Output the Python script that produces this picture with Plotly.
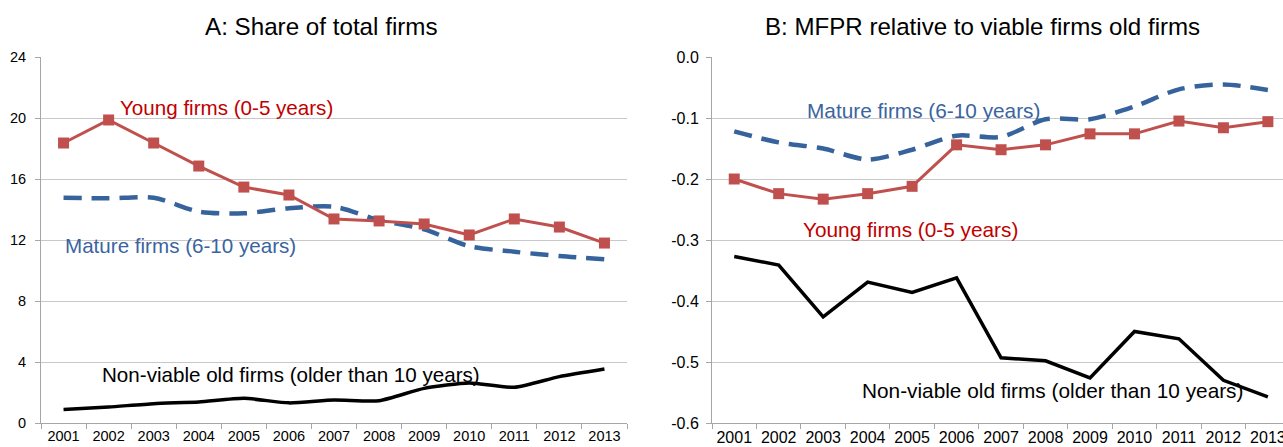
import plotly.graph_objects as go

years = ['2001', '2002', '2003', '2004', '2005', '2006', '2007', '2008', '2009', '2010', '2011', '2012', '2013']

# panel A: share of total firms (%)
share_young = [18.36, 19.87, 18.36, 16.85, 15.47, 14.95, 13.38, 13.25, 13.05, 12.33, 13.38, 12.85, 11.80]
share_mature = [14.77, 14.73, 14.77, 13.86, 13.75, 14.08, 14.18, 13.30, 12.70, 11.60, 11.23, 10.95, 10.73]
share_nonviable = [0.88, 1.05, 1.27, 1.38, 1.62, 1.32, 1.51, 1.46, 2.27, 2.62, 2.34, 3.04, 3.54]

# panel B: MFPR relative to viable old firms
mfpr_young = [-0.200, -0.224, -0.233, -0.224, -0.212, -0.144, -0.152, -0.144, -0.126, -0.126, -0.105, -0.116, -0.106]
mfpr_mature = [-0.122, -0.140, -0.150, -0.168, -0.152, -0.129, -0.131, -0.102, -0.102, -0.081, -0.053, -0.045, -0.054]
mfpr_nonviable = [-0.327, -0.341, -0.426, -0.369, -0.386, -0.362, -0.493, -0.498, -0.526, -0.450, -0.462, -0.530, -0.557]

a_ticks = [0, 4, 8, 12, 16, 20, 24]
b_ticks = [0.0, -0.1, -0.2, -0.3, -0.4, -0.5, -0.6]
b_ticktext = ['0.0', '-0.1', '-0.2', '-0.3', '-0.4', '-0.5', '-0.6']

RED = '#C0504D'
BLUE = '#36639C'
RED_TXT = '#C00000'
BLUE_TXT = '#3A64A0'
FONT = 'Liberation Sans, Arial, sans-serif'

fig = go.Figure()

# panel A
fig.add_trace(go.Scatter(x=years, y=share_mature, mode='lines', xaxis='x', yaxis='y',
                         line=dict(color=BLUE, width=4.5, dash='18px,10px', shape='spline', smoothing=0.8)))
fig.add_trace(go.Scatter(x=years, y=share_young, mode='lines+markers', xaxis='x', yaxis='y',
                         line=dict(color=RED, width=3),
                         marker=dict(symbol='square', size=11, color=RED)))
fig.add_trace(go.Scatter(x=years, y=share_nonviable, mode='lines', xaxis='x', yaxis='y',
                         line=dict(color='black', width=3.5, shape='spline', smoothing=0.6)))

# panel B
fig.add_trace(go.Scatter(x=years, y=mfpr_mature, mode='lines', xaxis='x2', yaxis='y2',
                         line=dict(color=BLUE, width=4.5, dash='18px,10px', shape='spline', smoothing=0.8)))
fig.add_trace(go.Scatter(x=years, y=mfpr_young, mode='lines+markers', xaxis='x2', yaxis='y2',
                         line=dict(color=RED, width=3),
                         marker=dict(symbol='square', size=11, color=RED)))
fig.add_trace(go.Scatter(x=years, y=mfpr_nonviable, mode='lines', xaxis='x2', yaxis='y2',
                         line=dict(color='black', width=3.5)))

xcommon = dict(type='category', showline=True, linecolor='#A6A6A6', linewidth=1,
               ticks='outside', ticklen=5, tickcolor='#A6A6A6', tickson='boundaries',
               tickangle=0, automargin=False, showgrid=False, zeroline=False)
ycommon = dict(showline=True, linecolor='#A6A6A6', linewidth=1,
               ticks='outside', ticklen=5, tickcolor='#A6A6A6', automargin=False,
               showgrid=True, gridcolor='#C8C8C8', gridwidth=1, zeroline=False)
font_a = dict(family=FONT, size=14.5, color='black')
font_b = dict(family=FONT, size=16, color='black')

fig.update_layout(
    width=1283, height=447,
    margin=dict(l=0, r=0, t=57, b=24),
    plot_bgcolor='white', paper_bgcolor='white',
    showlegend=False,
    xaxis=dict(xcommon, domain=[41 / 1283, 627 / 1283], range=[-0.5, 12.5], anchor='y', tickfont=font_a),
    yaxis=dict(ycommon, range=[0, 24], tickvals=a_ticks, anchor='x', tickfont=font_a, ticklabelstandoff=6),
    xaxis2=dict(xcommon, domain=[712 / 1283, 1.0], range=[-0.5, 12.34], anchor='y2', tickfont=font_b),
    yaxis2=dict(ycommon, range=[-0.6, 0.0], tickvals=b_ticks, ticktext=b_ticktext, anchor='x2',
                tickfont=font_b, ticklabelstandoff=4),
    annotations=[
        dict(text='A: Share of total firms', xref='paper', yref='paper', x=321 / 1283, y=1,
             yshift=31, xanchor='center', yanchor='middle', showarrow=False,
             font=dict(family=FONT, size=24.2, color='black')),
        dict(text='B: MFPR relative to viable firms old firms', xref='paper', yref='paper', x=982 / 1283, y=1,
             yshift=31, xanchor='center', yanchor='middle', showarrow=False,
             font=dict(family=FONT, size=24.1, color='black')),
        dict(text='Young firms (0-5 years)', xref='x', yref='y', x=1.2, y=20.7,
             xanchor='left', yanchor='middle', showarrow=False,
             font=dict(family=FONT, size=20.6, color=RED_TXT)),
        dict(text='Mature firms (6-10 years)', xref='x', yref='y', x=-0.01, y=11.67,
             xanchor='left', yanchor='middle', showarrow=False,
             font=dict(family=FONT, size=20.6, color=BLUE_TXT)),
        dict(text='Non-viable old firms (older than 10 years)', xref='x', yref='y', x=0.81, y=3.2,
             xanchor='left', yanchor='middle', showarrow=False,
             font=dict(family=FONT, size=20.6, color='black')),
        dict(text='Mature firms (6-10 years)', xref='x2', yref='y2', x=1.6, y=-0.087,
             xanchor='left', yanchor='middle', showarrow=False,
             font=dict(family=FONT, size=20.8, color=BLUE_TXT)),
        dict(text='Young firms (0-5 years)', xref='x2', yref='y2', x=1.49, y=-0.282,
             xanchor='left', yanchor='middle', showarrow=False,
             font=dict(family=FONT, size=20.8, color=RED_TXT)),
        dict(text='Non-viable old firms (older than 10 years)', xref='x2', yref='y2', x=2.83, y=-0.546,
             xanchor='left', yanchor='middle', showarrow=False,
             font=dict(family=FONT, size=20.8, color='black')),
    ],
)

# the page's default body margin would push the 1283x447 figure off the window
fig.write_html("out.html", config={'displayModeBar': False},
               post_script="document.body.style.margin = '0';")
